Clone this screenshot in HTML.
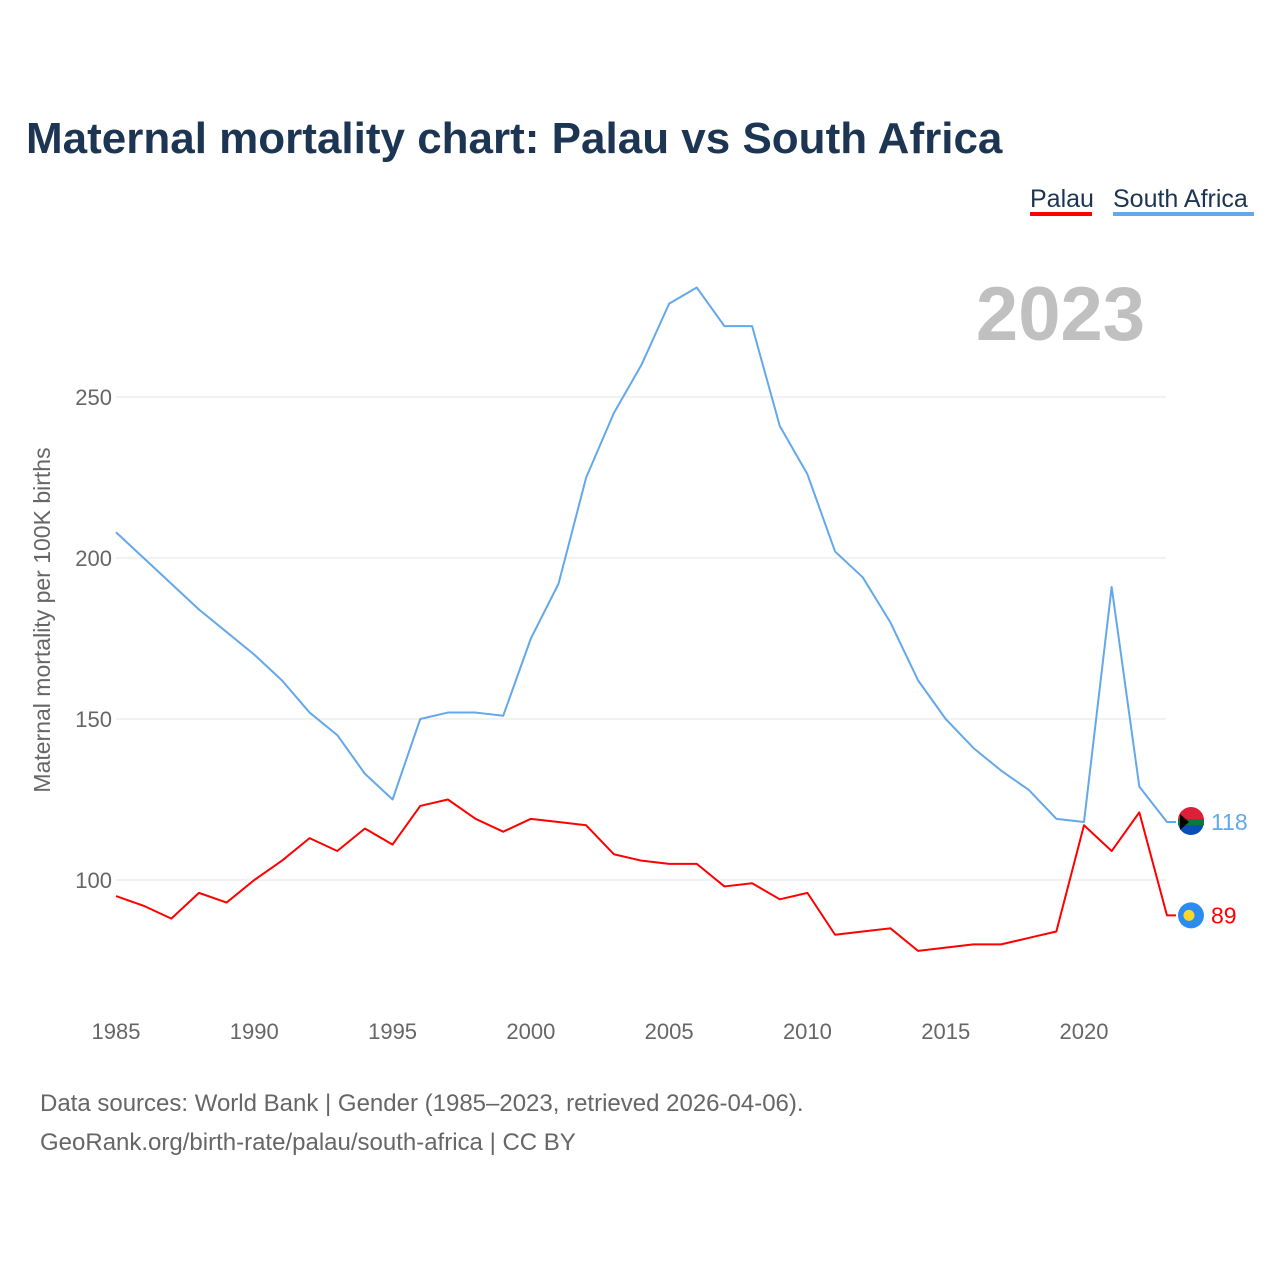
<!DOCTYPE html>
<html><head><meta charset="utf-8"><style>
body{margin:0;background:#fff;font-family:"Liberation Sans",sans-serif;}
</style></head><body>
<svg width="1280" height="1280" xmlns="http://www.w3.org/2000/svg">
<text x="26" y="153" font-size="44" font-weight="bold" fill="#1c3553">Maternal mortality chart: Palau vs South Africa</text>
<g>
<text x="1030" y="207" font-size="25" fill="#1c3553">Palau</text>
<rect x="1030" y="212" width="62" height="4" fill="#ff0000"/>
<text x="1113" y="207" font-size="25" fill="#1c3553">South Africa</text>
<rect x="1113" y="212" width="141" height="4" fill="#63a8ea"/>
</g>
<text x="1145" y="340" font-size="76" font-weight="bold" fill="#c0c0c0" text-anchor="end">2023</text>
<g id="grid"></g><g id="xt"></g><g id="lines"></g>
<text transform="translate(50,620) rotate(-90)" font-size="23" fill="#666" text-anchor="middle">Maternal mortality per 100K births</text>
<text x="40" y="1111" font-size="24" fill="#666">Data sources: World Bank | Gender (1985–2023, retrieved 2026-04-06).</text>
<text x="40" y="1150" font-size="24" fill="#666">GeoRank.org/birth-rate/palau/south-africa | CC BY</text>
</svg>
<script>
const years=[];for(let y=1985;y<=2023;y++)years.push(y);
const southAfrica=[208,200,192,184,177,170,162,152,145,133,125,150,152,152,151,175,192,225,245,260,279,284,272,272,241,226,202,194,180,162,150,141,134,128,119,118,191,129,118];
const palau=[95,92,88,96,93,100,106,113,109,116,111,123,125,119,115,119,118,117,108,106,105,105,98,99,94,96,83,84,85,78,79,80,80,82,84,117,109,121,89];
const yTicks=[100,150,200,250];
const xTicks=[1985,1990,1995,2000,2005,2010,2015,2020];
const NS="http://www.w3.org/2000/svg";
const X=v=>116+(v-1985)*(968/35);
const Y=v=>880-(v-100)*(483/150);
function mk(t,a,p){const e=document.createElementNS(NS,t);for(const k in a)e.setAttribute(k,a[k]);p.appendChild(e);return e;}
const grid=document.getElementById('grid'),xt=document.getElementById('xt'),lines=document.getElementById('lines');
yTicks.forEach(v=>{
const l=mk('line',{x1:116,x2:1166,y1:Y(v),y2:Y(v),stroke:'#e6e6e6','stroke-width':1},grid);


const t=mk('text',{x:112,y:Y(v)+8,'font-size':22,fill:'#666','text-anchor':'end'},grid);t.textContent=v;


});
xTicks.forEach(v=>{
const t=mk('text',{x:X(v),y:1039,'font-size':22,fill:'#666','text-anchor':'middle'},xt);t.textContent=v;


});
function series(d,c,name){
const lx=X(years[years.length-1]),last=d[d.length-1],ly=Y(last);
const pts=d.map((v,i)=>X(years[i])+','+Y(v)).join(' ')+' '+(lx+9)+','+ly;
const p=mk('polyline',{points:pts,fill:'none',stroke:c,'stroke-width':2,'stroke-linejoin':'round'},lines);


const c1=mk('circle',{cx:lx+24,cy:ly,r:13,fill:name==='palau'?'#2a8cf0':'#0b4fb5'},lines);


if(name==='palau'){const s=mk('circle',{cx:lx+22,cy:ly,r:5.5,fill:'#ffd52a'},lines);}
else{const r=mk('path',{d:`M${lx+11} ${ly-2} A13 13 0 0 1 ${lx+37} ${ly-2} Z`,fill:'#de1f3a'},lines);
const g=mk('rect',{x:lx+11,y:ly-3,width:26,height:6,fill:'#0a7a3a'},lines);
const b=mk('path',{d:`M${lx+13} ${ly-8} L${lx+22} ${ly} L${lx+13} ${ly+8} Z`,fill:'#000'},lines);}
const t=mk('text',{x:lx+44,y:ly+8,'font-size':23,fill:c},lines);t.textContent=last;


}
series(southAfrica,'#63a8ea','south-africa');
series(palau,'#ff0000','palau');
</script>
</body></html>
